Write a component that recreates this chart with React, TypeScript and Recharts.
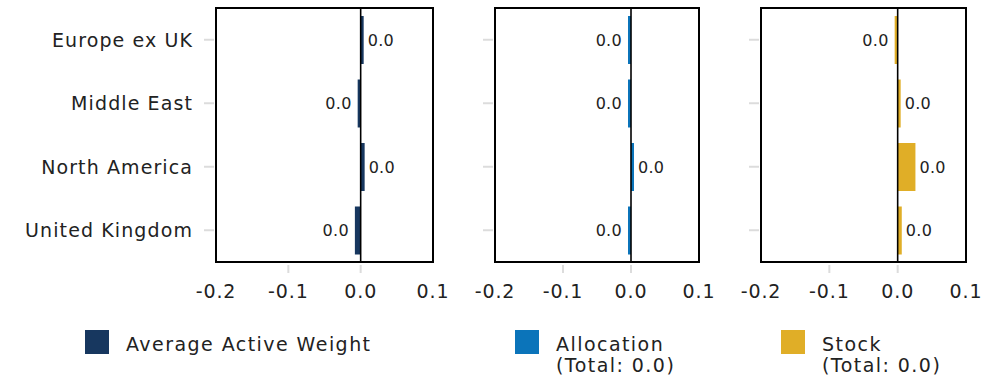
import React from 'react';
import { BarChart, Bar, XAxis, YAxis, ReferenceLine, ReferenceArea, LabelList } from 'recharts';

const categories = ['Europe ex UK', 'Middle East', 'North America', 'United Kingdom'];
const activeWeight = [0.003, -0.0005, 0.0055, -0.008];
const allocation = [-0.0003, -0.0003, 0.0006, -0.0008];
const stock = [-0.0003, 0.002, 0.026, 0.006];
const xTicks = [-0.2, -0.1, 0, 0.1];
const seriesNames = ['Average Active Weight', 'Allocation', 'Stock'];
const colors = ['#17375f', '#0b74ba', '#e0ae27'];

const FONT = '"DejaVu Sans", sans-serif';
const TEXT = '#222222';

const fmt = (v: number) => (Math.round(v * 10) / 10 + 0).toFixed(1);

const makeData = (vals: number[]) => categories.map((name, i) => ({ name, value: vals[i] }));

const YTick = (props: any) => {
  const { x, y, payload, showLabel } = props;
  return (
    <g>
      <line x1={x - 12} x2={x - 2} y1={y} y2={y} stroke="#dcdcdc" strokeWidth={2} />
      {showLabel && (
        <text x={x - 23} y={y} dy="0.36em" textAnchor="end" fontFamily={FONT} fontSize={19} letterSpacing={1.1} fill={TEXT}>
          {payload.value}
        </text>
      )}
    </g>
  );
};

const XTick = (props: any) => {
  const { x, y, payload } = props;
  const v = payload.value;
  const edge = v === xTicks[0] || v === xTicks[xTicks.length - 1];
  return (
    <g>
      {!edge && <line x1={x} x2={x} y1={y + 3} y2={y + 11} stroke="#dcdcdc" strokeWidth={2} />}
      <text x={x} y={y + 36} textAnchor="middle" fontFamily={FONT} fontSize={19} letterSpacing={0.9} fill={TEXT}>
        {v.toFixed(1)}
      </text>
    </g>
  );
};

const ValueLabel = (props: any) => {
  const { x, y, width, height, value } = props;
  const left = Math.min(x, x + width);
  const right = Math.max(x, x + width);
  const neg = value < 0;
  return (
    <text
      x={neg ? left - 6 : right + 4}
      y={y + height / 2}
      dy="0.36em"
      textAnchor={neg ? 'end' : 'start'}
      fontFamily={FONT}
      fontSize={16}
      letterSpacing={0.3}
      fill={TEXT}
    >
      {fmt(value)}
    </text>
  );
};

type PanelProps = {
  vals: number[];
  color: string;
  left: number;
  width: number;
  yWidth: number;
  right: number;
  showLabels: boolean;
};

const Panel = ({ vals, color, left, width, yWidth, right, showLabels }: PanelProps) => (
  <div style={{ position: 'absolute', left, top: 0 }}>
    <BarChart
      width={width}
      height={312}
      data={makeData(vals)}
      layout="vertical"
      margin={{ top: 8, right, bottom: 0, left: 0 }}
      barCategoryGap={0}
    >
      <XAxis
        type="number"
        domain={[xTicks[0], xTicks[xTicks.length - 1]]}
        ticks={xTicks}
        allowDataOverflow
        axisLine={false}
        tickLine={false}
        tickSize={0}
        tickMargin={0}
        height={50}
        interval={0}
        tick={<XTick />}
      />
      <YAxis
        type="category"
        dataKey="name"
        width={yWidth}
        axisLine={false}
        tickLine={false}
        tickSize={0}
        tickMargin={0}
        interval={0}
        tick={<YTick showLabel={showLabels} />}
      />
      <Bar dataKey="value" fill={color} barSize={48} minPointSize={3} isAnimationActive={false}>
        <LabelList dataKey="value" content={<ValueLabel />} />
      </Bar>
      <ReferenceLine x={0} stroke="#000" strokeWidth={1.6} ifOverflow="visible" />
      <ReferenceArea
        x1={xTicks[0]}
        x2={xTicks[xTicks.length - 1]}
        fill="none"
        fillOpacity={0}
        stroke="#000"
        strokeWidth={2}
        ifOverflow="visible"
      />
    </BarChart>
  </div>
);

const LegendItem = ({ color, name, total, left }: { color: string; name: string; total?: string; left: number }) => (
  <div style={{ position: 'absolute', left, top: 330 }}>
    <div style={{ position: 'absolute', left: 0, top: 0, width: 24, height: 24, background: color }} />
    <div
      style={{
        position: 'absolute',
        left: 41,
        top: 4,
        fontFamily: FONT,
        fontSize: 19,
        letterSpacing: 1.45,
        lineHeight: '21px',
        color: TEXT,
        whiteSpace: 'nowrap',
      }}
    >
      <div>{name}</div>
      {total !== undefined && <div>(Total: {total})</div>}
    </div>
  </div>
);

const sum = (a: number[]) => a.reduce((s, v) => s + v, 0);

export default function App() {
  return (
    <div style={{ position: 'absolute', left: 0, top: 0, width: 993, height: 380, background: '#fff' }}>
      <Panel vals={activeWeight} color={colors[0]} left={0} width={470} yWidth={216} right={37} showLabels />
      <Panel vals={allocation} color={colors[1]} left={450} width={280} yWidth={45} right={31} showLabels={false} />
      <Panel vals={stock} color={colors[2]} left={710} width={283} yWidth={51} right={27} showLabels={false} />
      <LegendItem color={colors[0]} name={seriesNames[0]} left={85} />
      <LegendItem color={colors[1]} name={seriesNames[1]} total={fmt(sum(allocation))} left={515} />
      <LegendItem color={colors[2]} name={seriesNames[2]} total={fmt(sum(stock))} left={781} />
    </div>
  );
}
